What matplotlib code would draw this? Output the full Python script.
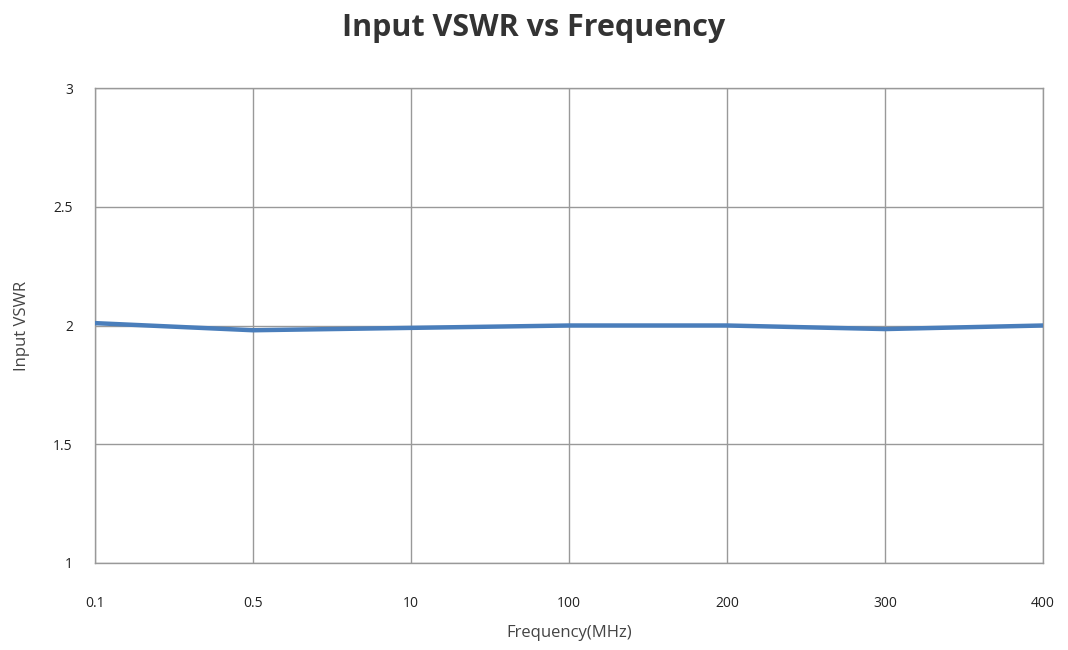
import matplotlib
matplotlib.use("Agg")
import matplotlib.pyplot as plt

# chart data
freq_labels = ["0.1", "0.5", "10", "100", "200", "300", "400"]
vswr = [2.01, 1.98, 1.99, 2.00, 2.00, 1.985, 2.00]
y_ticks = [1, 1.5, 2, 2.5, 3]
y_tick_labels = ["1", "1.5", "2", "2.5", "3"]

plt.rcParams["font.family"] = ["Open Sans", "DejaVu Sans"]

fig = plt.figure(figsize=(10.68, 6.5), dpi=100)
ax = fig.add_axes([95 / 1068, 1 - 563 / 650, 948 / 1068, 475 / 650])

x = list(range(len(freq_labels)))
ax.plot(x, vswr, color="#4a7ebb", linewidth=3.2, solid_capstyle="round", zorder=3)

ax.set_xlim(0, len(freq_labels) - 1)
ax.set_ylim(1, 3)
ax.set_xticks(x)
ax.set_xticklabels(freq_labels, fontsize=10)
ax.set_yticks(y_ticks)
ax.set_yticklabels(y_tick_labels, fontsize=10)
ax.tick_params(axis="x", length=0, pad=24, colors="#222222")
ax.tick_params(axis="y", length=0, pad=16, colors="#222222")

ax.grid(True, color="#999999", linewidth=1.0)
for s in ax.spines.values():
    s.set_color("#999999")
    s.set_linewidth(1.0)

ax.set_xlabel("Frequency(MHz)", fontsize=12, color="#444444", labelpad=10)
ax.set_ylabel("Input VSWR", fontsize=12, color="#444444", labelpad=17)
fig.text(0.5, 1 - 28 / 650, "Input VSWR vs Frequency", ha="center", va="center",
         fontsize=22, fontweight="bold", color="#333333")

fig.savefig("out.png", dpi=100)
